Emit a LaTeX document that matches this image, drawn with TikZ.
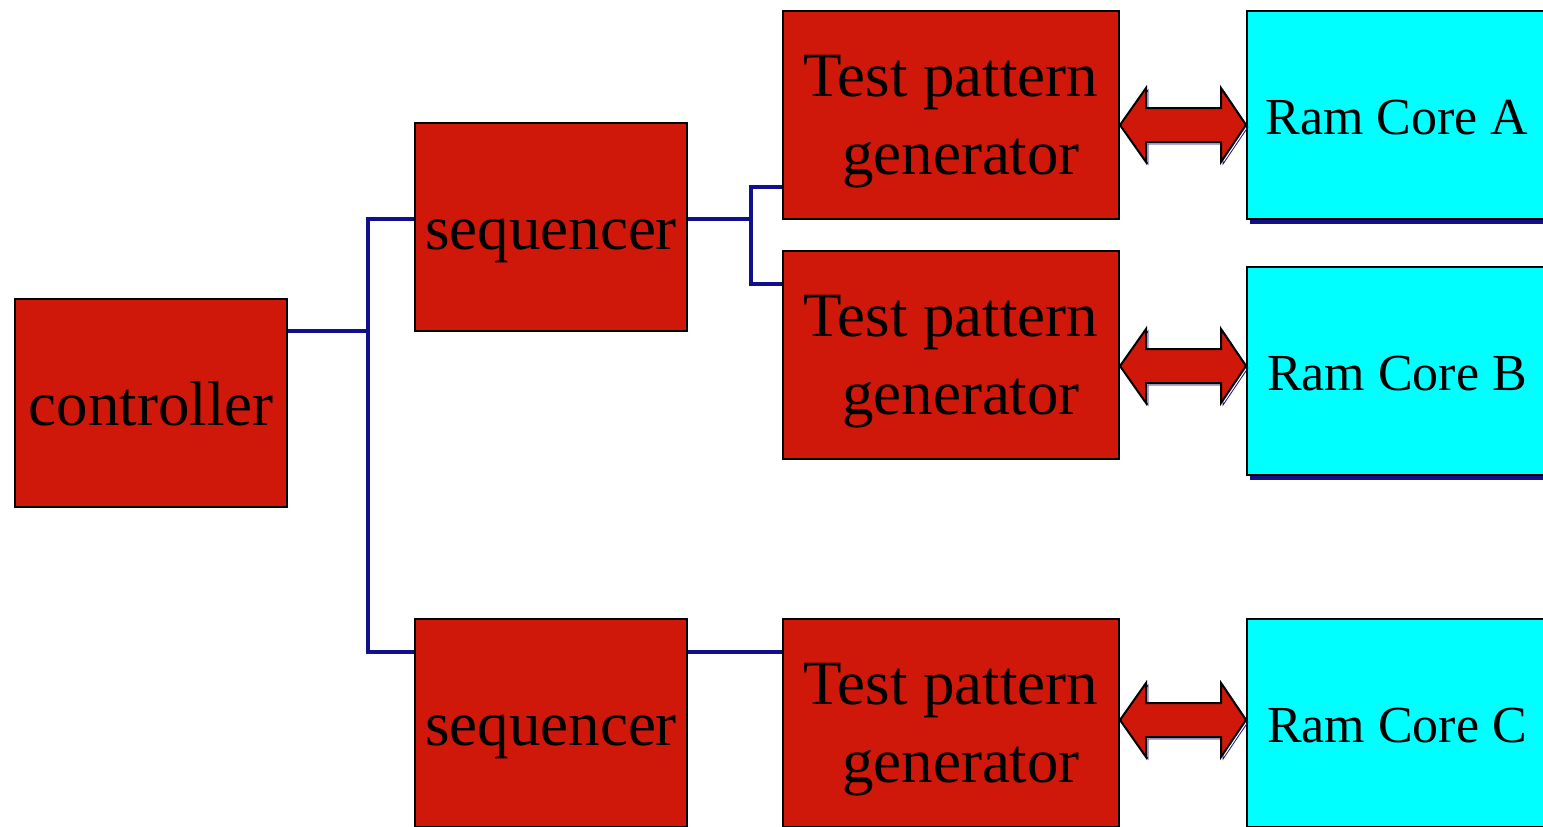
\documentclass[tikz,border=0pt]{standalone}
\usepackage{fontspec}
\setmainfont{Liberation Serif}
\usetikzlibrary{calc}
\definecolor{rouge}{RGB}{208,24,10}
\definecolor{ciel}{RGB}{0,255,255}
\definecolor{marine}{RGB}{16,16,140}
% fleche double entre deux pointes
\newcommand{\lienram}[2]{%
  \draw[lien] (#1) -- ++(26,-37) -- ++(0,20) -- ($(#2)+(-25,-17)$) -- ++(0,-20)
    -- (#2) -- ++(-25,37) -- ++(0,-20) -- ($(#1)+(26,17)$) -- ++(0,20) -- cycle;}

\begin{document}
\begin{tikzpicture}[x=0.5pt,y=-0.5pt]
 % definition des styles
  \tikzstyle{boite}=[rectangle,draw,line width=1pt,fill=rouge,inner sep=0pt,
    minimum height=104pt,align=center,text depth=0pt,
    font=\fontsize{31.5}{39}\selectfont]
  \tikzstyle{bloc}=[boite,minimum width=136pt,text height=22pt]
  \tikzstyle{tpg}=[boite,minimum width=168pt]
  \tikzstyle{ram}=[boite,fill=ciel,minimum width=150pt,text height=19pt,
    font=\fontsize{26}{31}\selectfont,
    preaction={fill=marine,draw=marine,transform canvas={shift={(2pt,-2pt)}}}]
  \tikzstyle{fil}=[draw=marine,line width=1.8pt]
  \tikzstyle{lien}=[draw,fill=rouge,line width=1pt,line join=miter,
    preaction={draw=marine,transform canvas={shift={(1pt,-1pt)}}}]
  \path[use as bounding box,clip] (0,0) rectangle (1543,826);
 % les noeuds
  \node[bloc] (ctrl) at (151,403) {controller};
  \node[bloc] (seqA) at (551,227) {sequencer};
  \node[bloc] (seqB) at (551,723) {sequencer};
  \node[tpg] (tpgA) at (951,115) {Test pattern\\\hspace*{10pt}generator};
  \node[tpg] (tpgB) at (951,355) {Test pattern\\\hspace*{10pt}generator};
  \node[tpg] (tpgC) at (951,723) {Test pattern\\\hspace*{10pt}generator};
  \node[ram] (ramA) at (1397,115) {Ram Core A};
  \node[ram] (ramB) at (1397,371) {Ram Core B};
  \node[ram] (ramC) at (1397,723) {Ram Core C};
 % les fils
  \coordinate (busA) at (368,331);
  \coordinate (busB) at (751,219);
  \draw[fil] (ctrl.east |- busA) -- (busA);
  \draw[fil] (seqA.west |- 0,219) -| (busA) |- (seqB.west |- 0,652);
  \draw[fil] (seqA.east |- busB) -- (busB);
  \draw[fil] (tpgA.west |- 0,187) -| (busB) |- (tpgB.west |- 0,284);
  \draw[fil] (seqB.east |- 0,652) -- (tpgC.west |- 0,652);
 % les fleches
  \coordinate (pA) at (tpgA.east |- 0,125); \coordinate (qA) at (ramA.west |- 0,125);
  \coordinate (pB) at (tpgB.east |- 0,366); \coordinate (qB) at (ramB.west |- 0,366);
  \coordinate (pC) at (tpgC.east |- 0,720); \coordinate (qC) at (ramC.west |- 0,720);
  \lienram{pA}{qA}
  \lienram{pB}{qB}
  \lienram{pC}{qC}
\end{tikzpicture}
\end{document}
